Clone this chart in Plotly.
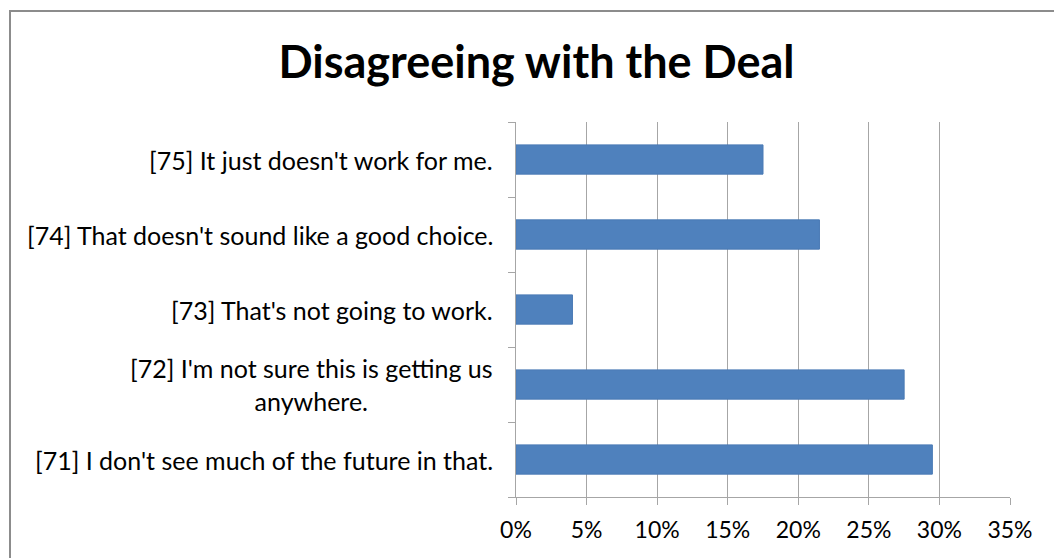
import plotly.graph_objects as go

categories = [
    "[71] I don't see much of the future in that.",
    "[72] I'm not sure this is getting us<br>anywhere.",
    "[73] That's not going to work.",
    "[74] That doesn't sound like a good choice.",
    "[75] It just doesn't work for me.",
]
values = [0.295, 0.275, 0.04, 0.215, 0.175]
x_ticks = [0, 0.05, 0.10, 0.15, 0.20, 0.25, 0.30, 0.35]
x_labels = ["0%", "5%", "10%", "15%", "20%", "25%", "30%", "35%"]
title = "Disagreeing with the Deal"

FONT = "Lato"
L, R, T, B = 516, 44, 122, 61
W, H = 1054, 558
pw, ph = W - L - R, H - T - B

fig = go.Figure(go.Bar(
    x=values, y=categories, orientation="h",
    marker=dict(color="#4f81bd", line=dict(color="#4a7ab5", width=1)),
))

annotations = [
    dict(x=0, y=c, xref="paper", yref="y", text=c, showarrow=False,
         xanchor="right", align="center", xshift=-21,
         font=dict(family=FONT, size=25, color="#000"))
    for c in categories
]

fig.update_layout(
    width=W, height=H,
    margin=dict(l=L, r=R, t=T, b=B),
    paper_bgcolor="white", plot_bgcolor="white",
    showlegend=False,
    bargap=0.61,
    title=dict(text="<b>" + title + "</b>", x=(280 + 793) / 2 / W, xref="container", xanchor="center",
               y=1 - 62 / H, yanchor="middle",
               font=dict(family=FONT, size=45, color="#000")),
    xaxis=dict(range=[0, 0.35], tickvals=x_ticks, ticktext=x_labels,
               showgrid=True, gridcolor="#a6a6a6", gridwidth=1,
               showline=True, linecolor="#a6a6a6", linewidth=1,
               ticks="outside", ticklen=7, tickcolor="#a6a6a6",
               ticklabelstandoff=5,
               tickfont=dict(family=FONT, size=23, color="#000"),
               zeroline=False, fixedrange=True),
    yaxis=dict(showticklabels=False, showline=True, linecolor="#a6a6a6", linewidth=1,
               ticks="outside", ticklen=7, tickcolor="#a6a6a6", tickson="boundaries",
               showgrid=False, fixedrange=True),
    annotations=annotations,
    shapes=[dict(type="rect", xref="paper", yref="paper",
                 x0=(10 - L) / pw, x1=(W + 10 - L) / pw,
                 y0=(H - B - (H + 10)) / ph, y1=(H - B - 11) / ph,
                 line=dict(color="#8c8c8c", width=2), fillcolor="rgba(0,0,0,0)", layer="below")],
)

fig.write_html("out.html")
